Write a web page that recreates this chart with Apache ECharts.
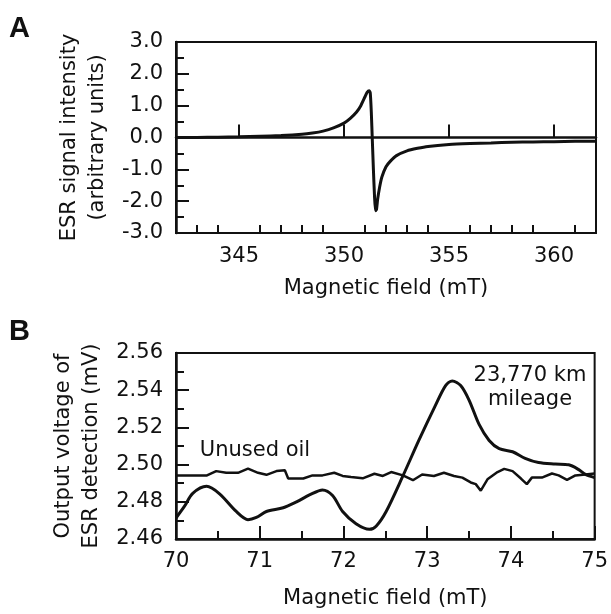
<!DOCTYPE html>
<html>
<head>
<meta charset="utf-8">
<script src="https://cdn.jsdelivr.net/npm/echarts@6/dist/echarts.min.js"></script>
<style>
  html, body { margin: 0; padding: 0; background: #fff; }
  #chart { width: 611px; height: 614px; }
</style>
</head>
<body>
<div id="chart"></div>
<script>
// panel A: ESR spectrum
const fieldA = [342, 343, 344, 345, 346, 347, 348, 348.5, 349, 349.5, 350, 350.3, 350.6, 350.8, 351.0, 351.1, 351.2, 351.25, 351.3, 351.35, 351.4, 351.45, 351.5, 351.55, 351.6, 351.7, 351.8, 352.0, 352.2, 352.5, 353, 353.5, 354, 355, 356, 357, 358, 359, 360, 361, 362]
const signalA = [0.0, 0.0, 0.01, 0.02, 0.04, 0.06, 0.1, 0.14, 0.2, 0.3, 0.45, 0.6, 0.8, 1.0, 1.28, 1.42, 1.47, 1.4, 0.8, -0.1, -1.0, -1.8, -2.3, -2.25, -1.95, -1.55, -1.25, -0.92, -0.75, -0.57, -0.42, -0.34, -0.28, -0.22, -0.19, -0.17, -0.15, -0.14, -0.13, -0.12, -0.12]
const majorTicksA = [345, 350, 355, 360]
const minorTicksA = [343, 344, 346, 347, 348, 349, 351, 352, 353, 354, 356, 357, 358, 359, 361]

// panel B: output voltage
const fieldMileage = [70.0, 70.1, 70.2, 70.365, 70.52, 70.72, 70.86, 70.96, 71.08, 71.28, 71.44, 71.6, 71.75, 71.87, 71.99, 72.15, 72.31, 72.39, 72.51, 72.71, 72.9, 73.1, 73.22, 73.3, 73.4, 73.5, 73.62, 73.74, 73.86, 74.02, 74.17, 74.33, 74.53, 74.69, 74.81, 74.89, 75.0]
const voltMileage = [2.4713, 2.4775, 2.4845, 2.4883, 2.4843, 2.4748, 2.4704, 2.4716, 2.4748, 2.4768, 2.48, 2.4838, 2.4864, 2.4834, 2.4748, 2.4682, 2.4652, 2.4669, 2.4748, 2.4939, 2.513, 2.532, 2.5425, 2.545, 2.5425, 2.5347, 2.5216, 2.513, 2.5086, 2.5069, 2.5034, 2.5011, 2.5003, 2.4999, 2.4973, 2.4947, 2.493]
const fieldUnused = [70.0, 70.37, 70.48, 70.6, 70.74, 70.86, 70.98, 71.08, 71.2, 71.3, 71.34, 71.52, 71.63, 71.75, 71.89, 71.99, 72.09, 72.23, 72.37, 72.47, 72.57, 72.71, 72.83, 72.94, 73.08, 73.2, 73.32, 73.42, 73.52, 73.58, 73.64, 73.72, 73.84, 73.92, 74.02, 74.12, 74.19, 74.25, 74.37, 74.49, 74.57, 74.67, 74.77, 74.89, 75.0]
const voltUnused = [2.4942, 2.4942, 2.4965, 2.4956, 2.4956, 2.4978, 2.4956, 2.4945, 2.4965, 2.497, 2.4925, 2.4925, 2.4942, 2.4942, 2.4956, 2.4939, 2.4933, 2.4926, 2.4951, 2.4939, 2.496, 2.4942, 2.4916, 2.4947, 2.4939, 2.4956, 2.4939, 2.493, 2.4904, 2.4895, 2.486, 2.4921, 2.496, 2.4977, 2.4965, 2.4925, 2.4895, 2.493, 2.493, 2.4952, 2.4942, 2.4918, 2.4942, 2.4947, 2.4952]

const FONT = "'DejaVu Sans', sans-serif"
const BOLD = "'Liberation Sans', Arial, sans-serif"
const INK = '#111'

function zip(xs, ys) {
  return xs.map((x, i) => [x, ys[i]])
}

const baseAxis = {
  axisLine: { lineStyle: { color: INK, width: 2.5 } },
  axisTick: { inside: true, length: 13, lineStyle: { color: INK, width: 2 } },
  minorTick: { show: true, splitNumber: 2, length: 8, lineStyle: { color: INK, width: 2 } },
  axisLabel: { color: INK, fontFamily: FONT, fontSize: 21 },
  splitLine: { show: false },
  nameTextStyle: { color: INK, fontFamily: FONT, fontSize: 21, lineHeight: 28 },
}

const chart = echarts.init(document.getElementById('chart'))

chart.setOption({
  backgroundColor: '#fff',
  animation: false,
  grid: [
    { left: 176, top: 42, width: 420, height: 191, show: true, borderColor: INK, borderWidth: 2 },
    { left: 176, top: 353, width: 420, height: 192, show: true, borderColor: INK, borderWidth: 2 },
  ],
  xAxis: [
    {
      ...baseAxis,
      type: 'value', gridIndex: 0, min: 342, max: 362,
      axisTick: { ...baseAxis.axisTick, customValues: majorTicksA },
      minorTick: { show: false },
      axisLabel: { ...baseAxis.axisLabel, margin: 13, customValues: majorTicksA },
      name: 'Magnetic field (mT)', nameLocation: 'middle', nameGap: 42,
    },
    {
      type: 'value', gridIndex: 0, min: 342, max: 362, position: 'bottom',
      axisLine: { show: false },
      axisTick: { inside: true, length: 8, lineStyle: { color: INK, width: 2 }, customValues: minorTicksA },
      axisLabel: { show: false },
      splitLine: { show: false },
    },
    {
      ...baseAxis,
      type: 'value', gridIndex: 1, min: 70, max: 75, interval: 1,
      axisLabel: { ...baseAxis.axisLabel, margin: 12 },
      name: 'Magnetic field (mT)', nameLocation: 'middle', nameGap: 46,
    },
  ],
  yAxis: [
    {
      ...baseAxis,
      type: 'value', gridIndex: 0, min: -3, max: 3, interval: 1,
      axisLabel: { ...baseAxis.axisLabel, margin: 13, formatter: (v) => v.toFixed(1) },
      name: 'ESR signal intensity\n(arbitrary units)', nameLocation: 'middle', nameGap: 63,
    },
    {
      ...baseAxis,
      type: 'value', gridIndex: 1, min: 2.46, max: 2.56, interval: 0.02,
      axisLabel: { ...baseAxis.axisLabel, margin: 13, formatter: (v) => v.toFixed(2) },
      name: 'Output voltage of\nESR detection (mV)', nameLocation: 'middle', nameGap: 63,
    },
  ],
  graphic: [
    { type: 'text', left: 9, top: 14, style: { text: 'A', font: `bold 29px ${BOLD}`, fill: INK } },
    { type: 'text', left: 9, top: 317, style: { text: 'B', font: `bold 29px ${BOLD}`, fill: INK } },
    { type: 'text', x: 255, y: 451, style: { text: 'Unused oil', font: `21px ${FONT}`, fill: INK, align: 'center', verticalAlign: 'middle' } },
    { type: 'text', x: 530, y: 388, style: { text: '23,770 km\nmileage', font: `21px ${FONT}`, fill: INK, align: 'center', verticalAlign: 'middle', lineHeight: 24 } },
  ],
  series: [
    {
      type: 'line', xAxisIndex: 0, yAxisIndex: 0,
      data: zip(fieldA, signalA),
      showSymbol: false, smooth: 0.2,
      lineStyle: { color: INK, width: 3 },
    },
    {
      type: 'line', xAxisIndex: 2, yAxisIndex: 1,
      data: zip(fieldMileage, voltMileage),
      showSymbol: false, smooth: 0.3,
      lineStyle: { color: INK, width: 3 },
    },
    {
      type: 'line', xAxisIndex: 2, yAxisIndex: 1,
      data: zip(fieldUnused, voltUnused),
      showSymbol: false,
      lineStyle: { color: INK, width: 2.5 },
    },
  ],
})
</script>
</body>
</html>
